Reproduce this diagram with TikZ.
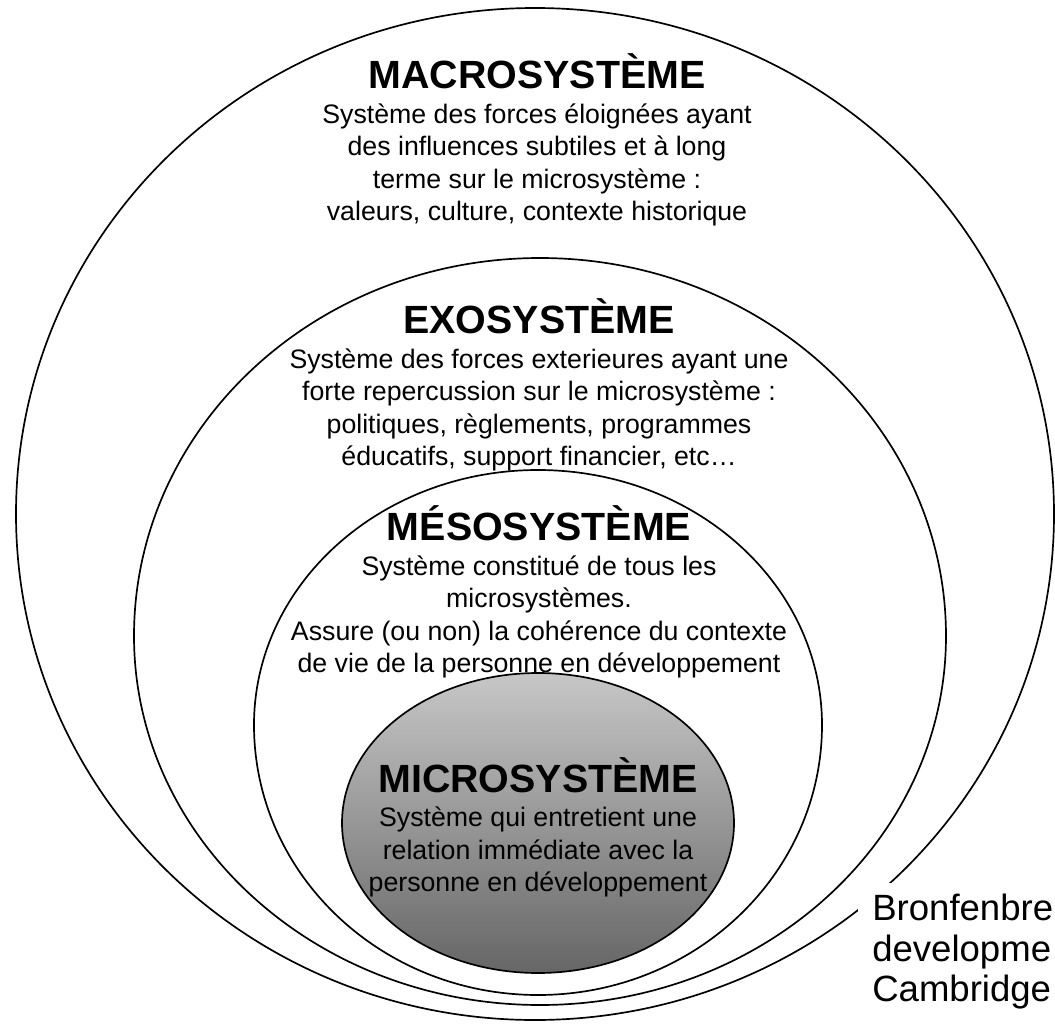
\documentclass[tikz,border=0pt]{standalone}
\usepackage{fontspec}
\setmainfont{Liberation Sans}
\usetikzlibrary{positioning}

\newcommand{\px}{0.025cm}

\begin{document}
\begin{tikzpicture}[x=\px, y=-\px,
    ring/.style={draw, line width=1.2pt},
    systitle/.style={font=\fontsize{28}{30}\selectfont\bfseries, inner sep=0pt, anchor=base},
    sysbody/.style={font=\fontsize{19}{23}\selectfont, align=center, inner sep=0pt},
    reftext/.style={font=\fontsize{26}{28.6}\selectfont, align=left, inner sep=0pt}]
            \useasboundingbox (0,0) rectangle (1055,1027);

            % the four levels, egg-like: upper and lower half with own height
            \draw[ring] (535,514) ellipse [x radius=519*\px, y radius=506*\px];
            \draw[ring] (134,636) arc [start angle=180, end angle=0, x radius=406*\px, y radius=378*\px]
                arc [start angle=0, end angle=-180, x radius=406*\px, y radius=369*\px];
            \draw[ring] (254,725) arc [start angle=180, end angle=0, x radius=284*\px, y radius=255*\px]
                arc [start angle=0, end angle=-180, x radius=284*\px, y radius=270*\px];
            \draw[ring, top color=black!22, bottom color=black!60] (538,823) ellipse [x radius=196*\px, y radius=150*\px];

            \node[systitle] (macrotitle) at (537,88) {MACROSYSTÈME};
            \node[sysbody, below=10.5pt of macrotitle] (macrobody)
            {Système des forces éloignées ayant\\des influences subtiles et à long\\terme sur le microsystème :\\valeurs, culture, contexte historique};

            \node[systitle] (exotitle) at (539,333) {EXOSYSTÈME};
            \node[sysbody, below=10.5pt of exotitle] (exobody)
            {Système des forces exterieures ayant une\\forte repercussion sur le microsystème :\\politiques, règlements, programmes\\éducatifs, support financier, etc…};

            \node[systitle] (mesotitle) at (539,540) {MÉSOSYSTÈME};
            \node[sysbody, below=10.5pt of mesotitle] (mesobody)
            {Système constitué de tous les\\microsystèmes.\\Assure (ou non) la cohérence du contexte\\de vie de la personne en développement};

            \node[systitle] (microtitle) at (538,792) {MICROSYSTÈME};
            \node[sysbody, below=10pt of microtitle] (microbody)
            {Système qui entretient une\\relation immédiate avec la\\personne en développement};

            % white patch under the cut-off reference
            \fill[white] (858,883) rectangle (1055,1027);
            \node[reftext, anchor=north west] (ref) at (872,894) {Bronfenbre\\developme\\Cambridge};
        \end{tikzpicture}
\end{document}
